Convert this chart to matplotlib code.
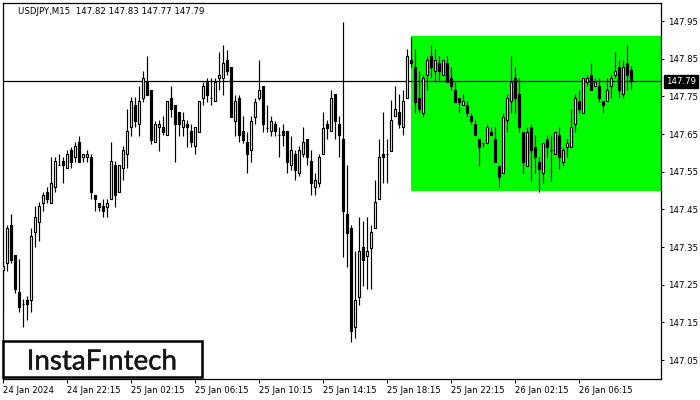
import matplotlib
matplotlib.use("Agg")
import matplotlib.pyplot as plt
import matplotlib.patheffects as pe
from matplotlib.patches import Rectangle
import numpy as np

symbol_title = "USDJPY,M15  147.82 147.83 147.77 147.79"

opens = [147.289, 147.309, 147.408, 147.328, 147.230, 147.198, 147.209, 147.209, 147.389, 147.417,
         147.468, 147.497, 147.468, 147.509, 147.567, 147.578, 147.559, 147.608, 147.588, 147.628,
         147.588, 147.588, 147.588, 147.488, 147.468, 147.459, 147.457, 147.477, 147.567, 147.497,
         147.559, 147.596, 147.668, 147.727, 147.678, 147.747, 147.787, 147.767, 147.628, 147.668,
         147.668, 147.647, 147.747, 147.727, 147.708, 147.668, 147.678, 147.658, 147.618, 147.656,
         147.747, 147.787, 147.747, 147.738, 147.798, 147.798, 147.846, 147.827, 147.685, 147.747,
         147.658, 147.630, 147.608, 147.696, 147.747, 147.777, 147.667, 147.658, 147.678, 147.647,
         147.658, 147.658, 147.568, 147.596, 147.547, 147.596, 147.636, 147.578, 147.509, 147.519,
         147.596, 147.678, 147.658, 147.756, 147.678, 147.636, 147.438, 147.400, 147.138, 147.218,
         147.351, 147.326, 147.349, 147.400, 147.477, 147.597, 147.597, 147.606, 147.698, 147.708,
         147.668, 147.747, 147.846, 147.827, 147.747, 147.707, 147.807, 147.857, 147.817, 147.838,
         147.807, 147.838, 147.798, 147.767, 147.747, 147.727, 147.727, 147.698, 147.678, 147.636,
         147.627, 147.627, 147.656, 147.636, 147.566, 147.548, 147.687, 147.738, 147.798, 147.756,
         147.656, 147.566, 147.668, 147.616, 147.576, 147.548, 147.636, 147.608, 147.596, 147.647,
         147.576, 147.616, 147.616, 147.678, 147.738, 147.707, 147.787, 147.807, 147.777, 147.777,
         147.738, 147.738, 147.777, 147.807, 147.827, 147.756, 147.838, 147.820]
highs = [147.311, 147.408, 147.438, 147.330, 147.318, 147.212, 147.220, 147.400, 147.459, 147.470,
         147.497, 147.509, 147.588, 147.588, 147.597, 147.588, 147.608, 147.617, 147.628, 147.646,
         147.596, 147.608, 147.596, 147.488, 147.468, 147.477, 147.477, 147.628, 147.578, 147.567,
         147.618, 147.716, 147.749, 147.749, 147.777, 147.817, 147.857, 147.767, 147.685, 147.687,
         147.698, 147.738, 147.777, 147.727, 147.708, 147.708, 147.687, 147.678, 147.668, 147.738,
         147.787, 147.798, 147.798, 147.798, 147.867, 147.886, 147.873, 147.827, 147.755, 147.755,
         147.698, 147.656, 147.698, 147.747, 147.846, 147.777, 147.727, 147.698, 147.685, 147.669,
         147.678, 147.658, 147.645, 147.608, 147.618, 147.669, 147.636, 147.608, 147.547, 147.596,
         147.709, 147.687, 147.767, 147.756, 147.698, 147.947, 147.568, 147.408, 147.340, 147.430,
         147.420, 147.430, 147.408, 147.528, 147.636, 147.709, 147.636, 147.740, 147.777, 147.756,
         147.767, 147.875, 147.908, 147.876, 147.817, 147.807, 147.857, 147.886, 147.876, 147.857,
         147.846, 147.857, 147.827, 147.787, 147.747, 147.756, 147.738, 147.707, 147.687, 147.636,
         147.627, 147.678, 147.668, 147.668, 147.566, 147.707, 147.756, 147.857, 147.827, 147.798,
         147.656, 147.668, 147.678, 147.647, 147.588, 147.627, 147.647, 147.647, 147.656, 147.668,
         147.616, 147.636, 147.716, 147.756, 147.767, 147.798, 147.807, 147.838, 147.798, 147.798,
         147.738, 147.798, 147.807, 147.867, 147.846, 147.846, 147.886, 147.830]
lows = [147.178, 147.287, 147.307, 147.229, 147.178, 147.138, 147.156, 147.178, 147.350, 147.367,
        147.446, 147.468, 147.468, 147.497, 147.567, 147.519, 147.559, 147.559, 147.576, 147.576,
        147.576, 147.576, 147.477, 147.446, 147.446, 147.429, 147.429, 147.477, 147.457, 147.497,
        147.528, 147.559, 147.645, 147.668, 147.645, 147.736, 147.755, 147.625, 147.628, 147.606,
        147.647, 147.647, 147.696, 147.576, 147.645, 147.645, 147.616, 147.616, 147.596, 147.656,
        147.727, 147.736, 147.727, 147.738, 147.767, 147.755, 147.807, 147.696, 147.645, 147.628,
        147.627, 147.547, 147.576, 147.678, 147.740, 147.656, 147.656, 147.645, 147.645, 147.588,
        147.618, 147.547, 147.556, 147.528, 147.539, 147.588, 147.568, 147.488, 147.488, 147.509,
        147.596, 147.636, 147.658, 147.636, 147.588, 147.324, 147.298, 147.099, 147.110, 147.196,
        147.247, 147.240, 147.240, 147.400, 147.477, 147.519, 147.519, 147.606, 147.698, 147.665,
        147.647, 147.747, 147.829, 147.707, 147.707, 147.696, 147.767, 147.798, 147.787, 147.787,
        147.807, 147.787, 147.767, 147.736, 147.707, 147.727, 147.696, 147.677, 147.647, 147.566,
        147.616, 147.627, 147.647, 147.576, 147.509, 147.548, 147.656, 147.707, 147.707, 147.656,
        147.548, 147.566, 147.526, 147.548, 147.497, 147.519, 147.588, 147.526, 147.596, 147.557,
        147.566, 147.588, 147.616, 147.656, 147.707, 147.707, 147.777, 147.767, 147.777, 147.736,
        147.707, 147.738, 147.747, 147.798, 147.747, 147.747, 147.767, 147.770]
closes = [147.300, 147.400, 147.316, 147.239, 147.190, 147.198, 147.198, 147.379, 147.429, 147.459,
          147.488, 147.477, 147.519, 147.578, 147.567, 147.567, 147.596, 147.576, 147.618, 147.576,
          147.596, 147.596, 147.497, 147.477, 147.457, 147.446, 147.468, 147.578, 147.488, 147.567,
          147.608, 147.658, 147.738, 147.685, 147.738, 147.798, 147.755, 147.634, 147.678, 147.678,
          147.656, 147.738, 147.716, 147.678, 147.678, 147.687, 147.668, 147.628, 147.668, 147.738,
          147.777, 147.755, 147.747, 147.787, 147.807, 147.838, 147.817, 147.696, 147.738, 147.647,
          147.634, 147.596, 147.685, 147.736, 147.767, 147.678, 147.667, 147.685, 147.658, 147.647,
          147.647, 147.576, 147.608, 147.556, 147.608, 147.628, 147.588, 147.519, 147.528, 147.588,
          147.667, 147.667, 147.747, 147.685, 147.647, 147.446, 147.388, 147.128, 147.209, 147.340,
          147.317, 147.340, 147.391, 147.469, 147.590, 147.588, 147.597, 147.687, 147.716, 147.678,
          147.738, 147.857, 147.838, 147.736, 147.716, 147.798, 147.846, 147.827, 147.846, 147.817,
          147.846, 147.787, 147.777, 147.736, 147.736, 147.738, 147.707, 147.685, 147.647, 147.616,
          147.627, 147.668, 147.647, 147.576, 147.537, 147.696, 147.747, 147.787, 147.747, 147.668,
          147.576, 147.656, 147.608, 147.588, 147.557, 147.627, 147.616, 147.608, 147.656, 147.588,
          147.608, 147.627, 147.668, 147.747, 147.716, 147.798, 147.798, 147.767, 147.787, 147.747,
          147.727, 147.767, 147.798, 147.817, 147.767, 147.827, 147.807, 147.790]

x_tick_bars = [0, 16, 32, 48, 64, 80, 96, 112, 128, 144]
x_tick_labels = ["24 Jan 2024", "24 Jan 22:15", "25 Jan 02:15", "25 Jan 06:15", "25 Jan 10:15",
                 "25 Jan 14:15", "25 Jan 18:15", "25 Jan 22:15", "26 Jan 02:15", "26 Jan 06:15"]
y_ticks = [147.05, 147.15, 147.25, 147.35, 147.45, 147.55, 147.65, 147.75, 147.85, 147.95]

current_price = 147.79
pattern_start_bar = 101.9
pattern_low = 147.50
pattern_high = 147.91

W, H = 700, 400
fig = plt.figure(figsize=(7, 4), dpi=100)
fig.patch.set_facecolor("white")
ax = fig.add_axes([3 / W, 21 / H, 658 / W, 376 / H])
ax.set_facecolor("white")

n = len(opens)
xs = np.arange(n)
o = np.array(opens); h = np.array(highs); l = np.array(lows); c = np.array(closes)

x_right = (661 - 3.3) / 4
ax.set_xlim(-0.075, x_right)
ax.set_ylim(147.0, 147.998)

# green pattern rectangle
ax.add_patch(Rectangle((pattern_start_bar, pattern_low), x_right - pattern_start_bar,
                       pattern_high - pattern_low, facecolor="#00ff00", edgecolor="none", zorder=1))

# current price line
ax.axhline(current_price, color="black", lw=0.9, zorder=2)

# wicks
ax.vlines(xs, l, h, color="black", lw=0.85, zorder=3)
# bodies
up = c >= o
bottoms = np.minimum(o, c)
heights = np.abs(c - o)
ax.bar(xs[up], heights[up], bottom=bottoms[up], width=0.5, color="white",
       edgecolor="black", linewidth=0.85, zorder=4)
ax.bar(xs[~up], heights[~up], bottom=bottoms[~up], width=0.5, color="black",
       edgecolor="black", linewidth=0.85, zorder=4)

for s in ax.spines.values():
    s.set_color("black")
    s.set_linewidth(0.9)

ax.yaxis.tick_right()
ax.set_yticks(y_ticks)
ax.set_yticklabels([f"{v:.2f}" for v in y_ticks])
ax.tick_params(axis="y", direction="out", length=2.5, width=0.7, pad=2.5,
               labelsize=6.2, colors="black")
ax.set_xticks(x_tick_bars)
ax.set_xticklabels(x_tick_labels)
ax.tick_params(axis="x", direction="out", length=2.8, width=0.7, pad=2,
               labelsize=6.1, colors="black")
for lbl in ax.get_xticklabels():
    lbl.set_horizontalalignment("left")
    lbl.set_fontfamily("DejaVu Sans")

# title
fig.text(18 / W, 1 - 12 / H, symbol_title, fontsize=6.2, color="black",
         ha="left", va="center", family="DejaVu Sans")

# current price label
ax.annotate(f"{current_price:.2f}", xy=(1.0, current_price), xycoords=("axes fraction", "data"),
            xytext=(3.5, 0), textcoords="offset points", ha="left", va="center",
            fontsize=6.2, color="white", annotation_clip=False,
            bbox=dict(boxstyle="square,pad=0.25", fc="black", ec="black"), zorder=10)

# logo
fig.add_artist(Rectangle((3 / W, (H - 377) / H), 199 / W, 36 / H, transform=fig.transFigure,
                         facecolor="white", edgecolor="black", linewidth=1.8, zorder=20))
fig.text(102 / W, (H - 369.5) / H, "InstaFıntech", fontsize=20, color="#161616",
         ha="center", va="baseline", family=["Lato", "DejaVu Sans"], zorder=21,
         path_effects=[pe.withStroke(linewidth=0.3, foreground="#161616")])

fig.savefig("out.png", dpi=100)
